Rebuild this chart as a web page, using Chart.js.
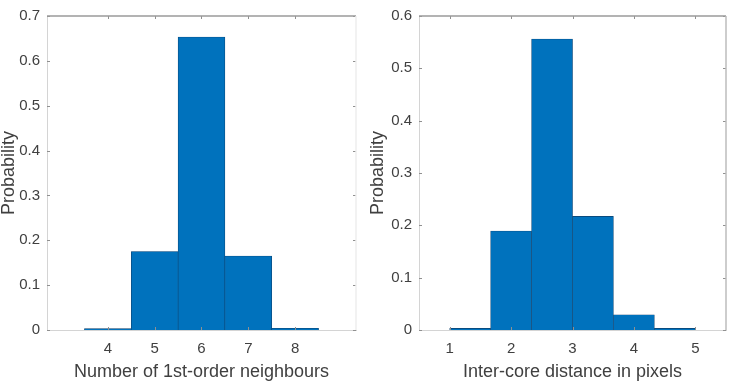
<!DOCTYPE html>
<html>
<head>
<meta charset="utf-8">
<script src="https://cdn.jsdelivr.net/npm/chart.js@4/dist/chart.umd.min.js"></script>
<style>
  html, body { margin: 0; padding: 0; background: #ffffff; }
  #wrap { position: relative; width: 734px; height: 382px; }
  .box { position: absolute; top: 0; height: 382px; }
  #b1 { left: 0; width: 367px; }
  #b2 { left: 367px; width: 367px; }
</style>
</head>
<body>
<div id="wrap">
  <div class="box" id="b1"><canvas id="c1"></canvas></div>
  <div class="box" id="b2"><canvas id="c2"></canvas></div>
</div>
<script>
// ---- data ----
const neighbourBins = [4, 5, 6, 7, 8];
const neighbourProb = [0.003, 0.175, 0.653, 0.165, 0.004];
const neighbourTicks = [4, 5, 6, 7, 8];
const neighbourTitle = 'Number of 1st-order neighbours';

const distanceBins = [1.333, 2, 2.667, 3.333, 4, 4.667];
const distanceProb = [0.003, 0.189, 0.556, 0.217, 0.029, 0.003];
const distanceTicks = [1, 2, 3, 4, 5];
const distanceTitle = 'Inter-core distance in pixels';

const yTitle = 'Probability';

const FONT = '"Liberation Sans", Arial, Helvetica, sans-serif';
const TXT = '#404040';

const boxPlugin = {
  id: 'matlabBox',
  afterDraw(chart, args, opts) {
    const {ctx, chartArea: a, scales} = chart;
    ctx.save();
    ctx.strokeStyle = '#909090';
    ctx.lineWidth = 1;
    const tl = 3;
    scales.x.ticks.forEach(t => {
      const px = Math.round(scales.x.getPixelForValue(t.value)) + 0.5;
      ctx.beginPath();
      ctx.moveTo(px, a.bottom); ctx.lineTo(px, a.bottom - tl);
      ctx.moveTo(px, a.top); ctx.lineTo(px, a.top + tl);
      ctx.stroke();
    });
    scales.y.ticks.forEach(t => {
      const py = Math.round(scales.y.getPixelForValue(t.value)) + 0.5;
      ctx.beginPath();
      ctx.moveTo(a.left, py); ctx.lineTo(a.left + tl, py);
      ctx.moveTo(a.right, py); ctx.lineTo(a.right - tl, py);
      ctx.stroke();
    });
    ctx.strokeStyle = '#9a9a9a';
    ctx.lineWidth = 1.5;
    ctx.beginPath();
    ctx.moveTo(a.left, a.top); ctx.lineTo(a.right, a.top);
    ctx.stroke();
    ctx.strokeStyle = opts.rightColor || '#c0c0c0';
    ctx.lineWidth = 1.5;
    ctx.beginPath();
    ctx.moveTo(a.right, a.top); ctx.lineTo(a.right, a.bottom);
    ctx.stroke();
    ctx.restore();
  }
};

function makeChart(id, bins, probs, ticks, xmin, xmax, ymax, xTitle, yAxisWidth, rightPad, yTitlePad, rightColor) {
  return new Chart(document.getElementById(id), {
    type: 'bar',
    data: {
      datasets: [{
        data: bins.map((b, i) => ({x: b, y: probs[i]})),
        backgroundColor: '#0072BD',
        borderColor: '#0d3f6b',
        borderWidth: {left: 0.6, right: 0.6, top: 0.6, bottom: 0},
        borderSkipped: 'bottom',
        barPercentage: 1,
        categoryPercentage: 1
      }]
    },
    options: {
      responsive: true,
      maintainAspectRatio: false,
      animation: false,
      events: [],
      layout: { padding: { top: 11, right: rightPad, bottom: 0, left: 0 } },
      plugins: {
        legend: { display: false },
        tooltip: { enabled: false },
        matlabBox: { rightColor: rightColor }
      },
      scales: {
        x: {
          type: 'linear',
          min: xmin, max: xmax,
          offset: false,
          grid: { display: false, drawTicks: false, offset: false },
          border: { display: true, color: '#d4d4d4', width: 1 },
          afterBuildTicks: s => { s.ticks = ticks.map(v => ({value: v})); },
          afterFit: s => { s.height = 52; },
          ticks: { color: TXT, font: { family: FONT, size: 15 }, padding: 10, maxRotation: 0 },
          title: { display: true, text: xTitle, color: TXT,
                   font: { family: FONT, size: 18, lineHeight: 1 }, padding: { top: 0, bottom: 1 } }
        },
        y: {
          min: 0, max: ymax,
          grid: { display: false, drawTicks: false },
          border: { display: true, color: '#d4d4d4', width: 1 },
          afterFit: s => { s.width = yAxisWidth; },
          ticks: { stepSize: 0.1, color: TXT, font: { family: FONT, size: 15 }, padding: 7 },
          title: { display: true, text: yTitle, color: TXT,
                   font: { family: FONT, size: 18, lineHeight: 1 }, padding: { top: yTitlePad, bottom: 0 } }
        }
      }
    },
    plugins: [boxPlugin]
  });
}

makeChart('c1', neighbourBins, neighbourProb, neighbourTicks, 2.7, 9.3, 0.7, neighbourTitle, 47, 11, 0, '#eeeeee');
makeChart('c2', distanceBins, distanceProb, distanceTicks, 0.5, 5.5, 0.6, distanceTitle, 52, 8, 2, '#bdbdbd');
</script>
</body>
</html>
